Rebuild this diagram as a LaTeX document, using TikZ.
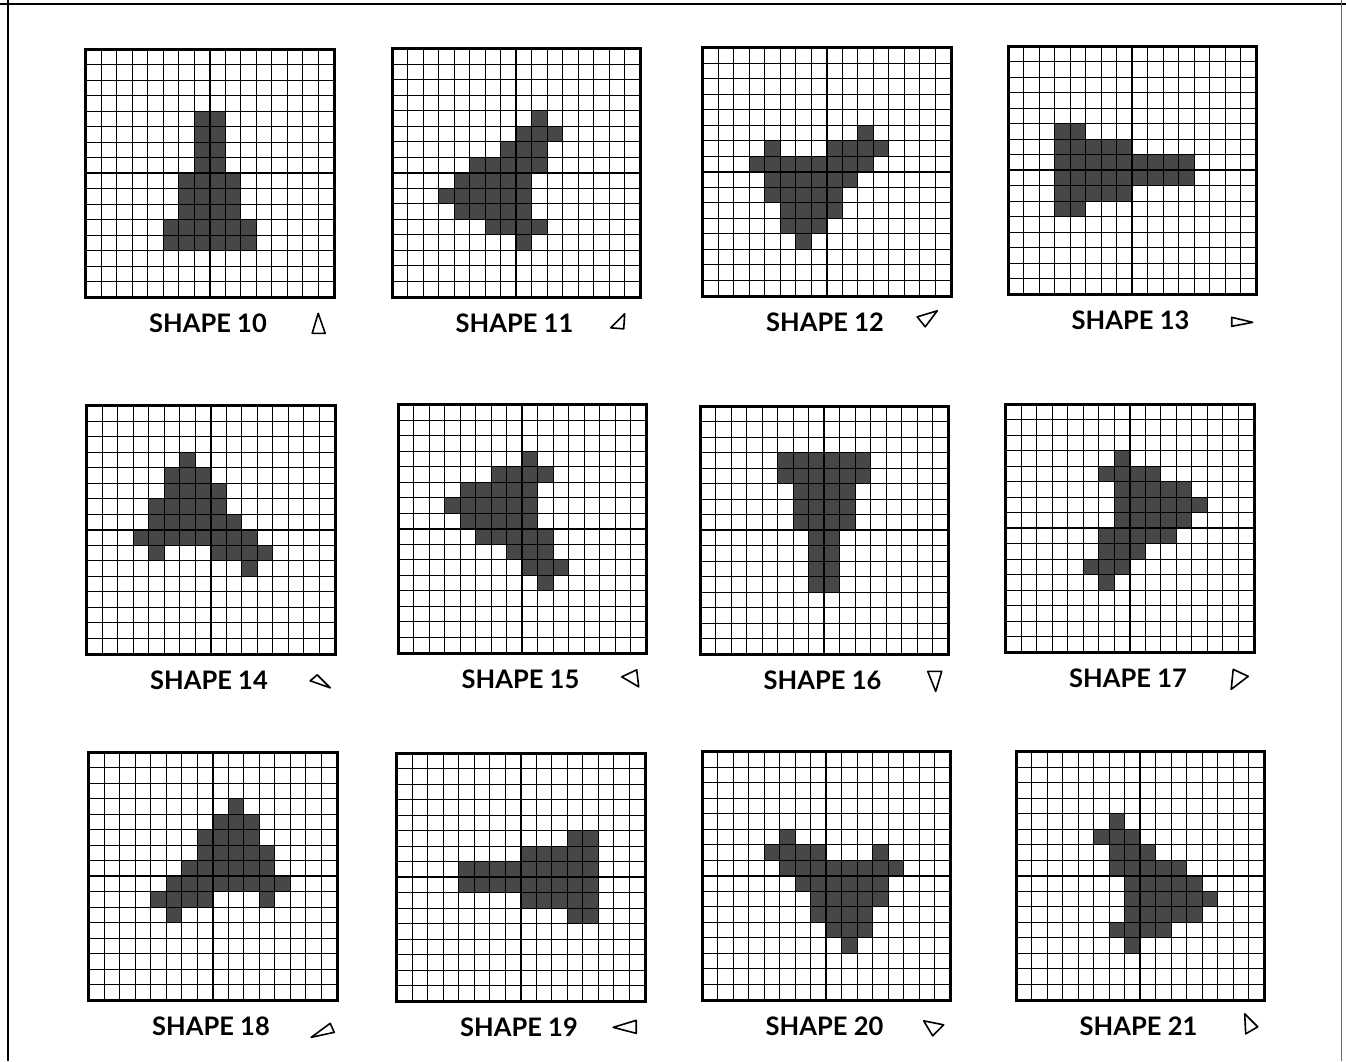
\documentclass[tikz,border=0pt]{standalone}
\usepackage{fontspec}
\setmainfont{Lato}
\usetikzlibrary{positioning}

% fills the cells of one panel (row/first col/last col) and rules it
\newcommand{\pixgrid}[2]{%
  \begin{scope}[shift={(#1.north west)}]
    \foreach \r/\a/\b in {#2}
      \fill[pixel] (\a*15.5,\r*15.5) rectangle ({(\b+1)*15.5},{(\r+1)*15.5});
    \foreach \i in {1,...,15} {
      \draw[gridline] (\i*15.5,0) -- (\i*15.5,248);
      \draw[gridline] (0,\i*15.5) -- (248,\i*15.5);
    }
    \draw[axisline] (124,0) -- (124,248);
    \draw[axisline] (0,124) -- (248,124);
  \end{scope}
  \draw[frame] (#1.north west) rectangle (#1.south east);}

\begin{document}
\begin{tikzpicture}[x=1pt, y=-1pt]
    % Styles
    \tikzstyle{panel} = [rectangle, minimum size=248pt, inner sep=0pt]
    \tikzstyle{pixel} = [fill=black!72]
    \tikzstyle{gridline} = [line width=1.2pt, black]
    \tikzstyle{axisline} = [line width=2pt, black]
    \tikzstyle{frame} = [line width=2.8pt, black]
    \tikzstyle{caption} = [font=\fontsize{25.5}{28}\selectfont\bfseries, inner sep=0pt]
    \tikzstyle{icon} = [line width=1.6pt, line join=round]
    \tikzstyle{pageline} = [line width=2.5pt, black]

    \useasboundingbox (0,0) rectangle (1346,1061);

    % === Page rules ===
    \draw [pageline] (0,4) -- (1346,4);
    \draw [pageline] (8,0) -- (8,1061);
    \draw [line width=1pt, black!60] (1341,0) -- (1341,1061);

    % === TOP ROW ===
    \node [panel] (g10) at (210,173.5) {};
    \node [panel] (g11) at (516.5,173) {};
    \node [panel] (g12) at (827,172) {};
    \node [panel] (g13) at (1132.5,170.5) {};

    % === MIDDLE ROW ===
    \node [panel] (g14) at (211,530) {};
    \node [panel] (g15) at (522.5,529) {};
    \node [panel] (g16) at (824.5,530.5) {};
    \node [panel] (g17) at (1130,528.5) {};

    % === BOTTOM ROW ===
    \node [panel] (g18) at (213,876.5) {};
    \node [panel] (g19) at (521,877.5) {};
    \node [panel] (g20) at (826.5,876) {};
    \node [panel] (g21) at (1140.5,876) {};

    % === Pixel patterns ===
    \pixgrid{g10}{4/7/8,5/7/8,6/7/8,7/7/8,8/6/9,9/6/9,10/6/9,11/5/10,12/5/10}
    \pixgrid{g11}{4/9/9,5/8/10,6/7/9,7/5/9,8/4/8,9/3/8,10/4/8,11/6/9,12/8/8}
    \pixgrid{g12}{5/10/10,6/4/4,6/8/11,7/3/10,8/4/9,9/4/8,10/5/8,11/5/7,12/6/6}
    \pixgrid{g13}{5/3/4,6/3/7,7/3/11,8/3/11,9/3/7,10/3/4}
    \pixgrid{g14}{3/6/6,4/5/7,5/5/8,6/4/8,7/4/9,8/3/10,9/4/4,9/8/11,10/10/10}
    \pixgrid{g15}{3/8/8,4/6/9,5/4/8,6/3/8,7/4/8,8/5/9,9/7/9,10/8/10,11/9/9}
    \pixgrid{g16}{3/5/10,4/5/10,5/6/9,6/6/9,7/6/9,8/7/8,9/7/8,10/7/8,11/7/8}
    \pixgrid{g17}{3/7/7,4/6/9,5/7/11,6/7/12,7/7/11,8/6/10,9/6/8,10/5/7,11/6/6}
    \pixgrid{g18}{3/9/9,4/8/10,5/7/10,6/7/11,7/6/11,8/5/12,9/4/7,9/11/11,10/5/5}
    \pixgrid{g19}{5/11/12,6/8/12,7/4/12,8/4/12,9/8/12,10/11/12}
    \pixgrid{g20}{5/5/5,6/4/7,6/11/11,7/5/12,8/6/11,9/7/11,10/7/10,11/8/10,12/9/9}
    \pixgrid{g21}{4/6/6,5/5/7,6/6/8,7/6/10,8/7/11,9/7/12,10/7/11,11/6/9,12/7/7}

    % === Captions ===
    \foreach \n in {10,11,12,13,14,15,16,17,18,19,20,21}
        \node [caption, below=16pt of g\n, xshift=-2pt] (l\n) {SHAPE \n};

    % === Orientation marks ===
    \foreach \n in {10,11,12,13,14,15,16,17,18,19,20,21}
        \coordinate (i\n) at (g\n.east |- l\n);
    \draw [icon, shift={(i10)}] (-16,-10) -- (-22,10) -- (-9,10) -- cycle;
    \draw [icon, shift={(i11)}] (-16,-9) -- (-30,5) -- (-17,6) -- cycle;
    \draw [icon, shift={(i12)}] (-14,-11) -- (-34,-5) -- (-26,5) -- cycle;
    \draw [icon, shift={(i13)}] (-25,-3) -- (-25,6) -- (-4,2) -- cycle;
    \draw [icon, shift={(i14)}] (-25,1) -- (-18,-5) -- (-5,8) -- cycle;
    \draw [icon, shift={(i15)}] (-25,-2) -- (-10,-9) -- (-8,8) -- cycle;
    \draw [icon, shift={(i16)}] (-21,-9) -- (-7,-9) -- (-13,11) -- cycle;
    \draw [icon, shift={(i17)}] (-21,-9) -- (-6,-2) -- (-23,11) -- cycle;
    \draw [icon, shift={(i18)}] (-26,11) -- (-7,-3) -- (-3,6) -- cycle;
    \draw [icon, shift={(i19)}] (-32,0) -- (-9,-7) -- (-9,6) -- cycle;
    \draw [icon, shift={(i20)}] (-27,-5) -- (-7,-1) -- (-18,10) -- cycle;
    \draw [icon, shift={(i21)}] (-20,-12) -- (-7,1) -- (-19,8) -- cycle;

\end{tikzpicture}
\end{document}
